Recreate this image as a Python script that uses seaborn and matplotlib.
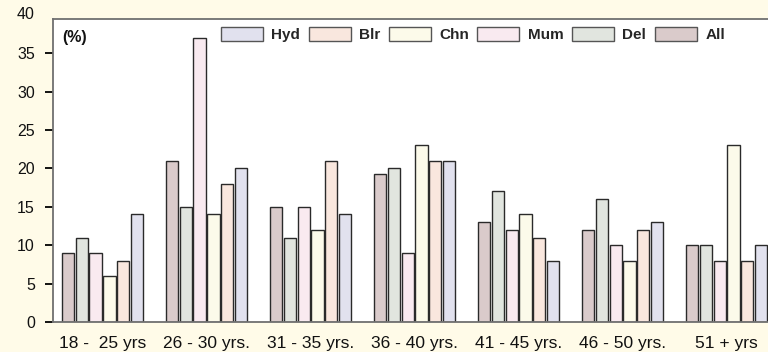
import matplotlib
matplotlib.use("Agg")
import matplotlib.pyplot as plt
import seaborn as sns
import pandas as pd
from matplotlib.transforms import blended_transform_factory

# Age groups on the x axis
age_groups = ["18 -  25 yrs", "26 - 30 yrs.", "31 - 35 yrs.", "36 - 40 yrs.",
              "41 - 45 yrs.", "46 - 50 yrs.", "51 + yrs"]

# Share of respondents (%) per city, in age-group order
all_cities = [9, 21, 15, 19.3, 13, 12, 10]
delhi = [11, 15, 11, 20, 17, 16, 10]
mumbai = [9, 37, 15, 9, 12, 10, 8]
chennai = [6, 14, 12, 23, 14, 8, 23]
bangalore = [8, 18, 21, 21, 11, 12, 8]
hyderabad = [14, 20, 14, 21, 8, 13, 10]

series = {"All": all_cities, "Del": delhi, "Mum": mumbai,
          "Chn": chennai, "Blr": bangalore, "Hyd": hyderabad}
bar_order = ["All", "Del", "Mum", "Chn", "Blr", "Hyd"]
colors = {"All": "#DCC8C9", "Del": "#E1E6DE", "Mum": "#FCE7F0",
          "Chn": "#FFFCE7", "Blr": "#FDE6DA", "Hyd": "#DFDFF0"}

df = pd.DataFrame([
    {"age": a, "city": c, "pct": v}
    for c in bar_order
    for a, v in zip(age_groups, series[c])
])

sns.set_theme(style="white")
plt.rcParams["font.family"] = ["Liberation Sans", "DejaVu Sans"]

bg = "#FFFBE8"
fig = plt.figure(figsize=(7.68, 3.52), dpi=100, facecolor=bg)
ax = fig.add_axes([53 / 768, 30 / 352, 725 / 768, 303 / 352])
ax.set_facecolor("white")

sns.barplot(data=df, x="age", y="pct", hue="city", hue_order=bar_order,
            order=age_groups, palette=colors, width=0.79, gap=0.1,
            edgecolor="#2a2a2a", linewidth=1.0, ax=ax)

ax.set_xlim(-0.476, 6.495)
ax.set_ylim(0, 39.45)
ax.set_yticks([0, 5, 10, 15, 20, 25, 30, 35])
ax.set_xlabel("")
ax.set_ylabel("")

for side in ["left", "bottom", "top", "right"]:
    ax.spines[side].set_color("#707070")
    ax.spines[side].set_linewidth(1.3)

ax.tick_params(axis="y", which="major", left=True, length=6, width=1.3,
               color="black", pad=7, labelsize=11.5, labelcolor="#111111")
ax.tick_params(axis="x", which="major", bottom=False, length=0, pad=10,
               labelsize=12.5, labelcolor="#111111")

# The top value of the scale sits above the plot frame
trans = blended_transform_factory(ax.transAxes, ax.transData)
ax.text(-(53 - 34.5) / 725, 40, "40", transform=trans, ha="right",
        va="center", fontsize=11.5, color="#111111", clip_on=False)

ax.text(9 / 725, 37.0, "(%)", transform=trans, ha="left", va="center",
        fontsize=11.5, fontweight="bold", color="#111111")

handles, labels = ax.get_legend_handles_labels()
if ax.get_legend():
    ax.get_legend().remove()
for h in handles:
    h.set_edgecolor("#555555")
leg = ax.legend(handles[::-1], labels[::-1], ncol=6, frameon=False,
                loc="upper left", bbox_to_anchor=(221 / 768, 1.0 - 27 / 352),
                bbox_transform=fig.transFigure,
                handlelength=2.75, handleheight=1.0, handletextpad=0.55,
                columnspacing=0.55, borderaxespad=0, borderpad=0,
                prop={"weight": "bold", "size": 11})

fig.savefig("out.png", dpi=100, facecolor=bg)
